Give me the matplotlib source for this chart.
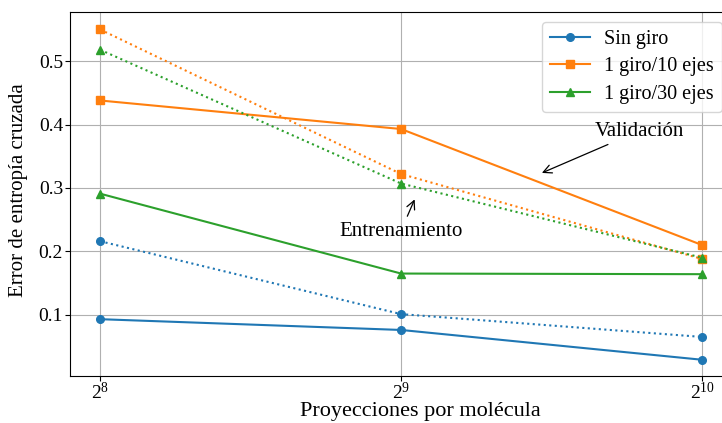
import matplotlib
matplotlib.use("Agg")
import matplotlib.pyplot as plt

plt.rcParams['font.family'] = ['Liberation Serif', 'DejaVu Serif']
plt.rcParams['mathtext.fontset'] = 'custom'
plt.rcParams['mathtext.rm'] = 'Liberation Serif'
plt.rcParams['mathtext.it'] = 'Liberation Serif:italic'
plt.rcParams['font.size'] = 15
plt.rcParams['xtick.labelsize'] = 14
plt.rcParams['ytick.labelsize'] = 14

proyecciones = [2**8, 2**9, 2**10]
series = ['Sin giro', '1 giro/10 ejes', '1 giro/30 ejes']
colores = ['#1f77b4', '#ff7f0e', '#2ca02c']
marcadores = ['o', 's', '^']

# validación (línea continua) y entrenamiento (línea punteada)
val_sin_giro = [0.093, 0.076, 0.029]
val_10_ejes = [0.438, 0.393, 0.210]
val_30_ejes = [0.291, 0.165, 0.164]
ent_sin_giro = [0.216, 0.101, 0.065]
ent_10_ejes = [0.550, 0.322, 0.188]
ent_30_ejes = [0.518, 0.307, 0.190]

validacion = [val_sin_giro, val_10_ejes, val_30_ejes]
entrenamiento = [ent_sin_giro, ent_10_ejes, ent_30_ejes]

fig = plt.figure(figsize=(7.22, 4.23), dpi=100)
ax = fig.add_axes([0.097, 0.111, 0.917, 0.8605])

for nombre, c, m, val, ent in zip(series, colores, marcadores, validacion, entrenamiento):
    ax.plot(proyecciones, val, color=c, marker=m, markersize=5.5,
            linestyle='-', label=nombre)
    ax.plot(proyecciones, ent, color=c, marker=m, markersize=5.5,
            linestyle=':')

ax.set_xscale('log', base=2)
ax.set_xticks(proyecciones)
ax.set_xlim(2**7.9, 2**10.1)
ax.set_ylim(0.0033, 0.5775)
ax.set_yticks([0.1, 0.2, 0.3, 0.4, 0.5])
ax.tick_params(axis='x', pad=1)
ax.tick_params(axis='y', pad=1.5)
ax.grid(True, color='#b0b0b0', linewidth=0.8)
ax.set_axisbelow(True)

ax.set_xlabel('Proyecciones por molécula', fontsize=16)
ax.xaxis.set_label_coords(0.529, -0.072)
ax.set_ylabel('Error de entropía cruzada')
ax.yaxis.set_label_coords(-0.063, 0.51)

ax.annotate('Validación', xy=(2**9.4595, 0.322), xytext=(2**9.7907, 0.3897),
            ha='center', va='center',
            arrowprops=dict(arrowstyle='->', color='black', lw=0.9))
ax.annotate('Entrenamiento', xy=(2**9.0488, 0.286), xytext=(2**8.9993, 0.232),
            ha='center', va='center',
            arrowprops=dict(arrowstyle='->', color='black', lw=0.9))

ax.legend(loc='upper right', fontsize=14.5, borderaxespad=0.5,
          labelspacing=0.4, handletextpad=0.7)

fig.savefig('out.png', dpi=100)
